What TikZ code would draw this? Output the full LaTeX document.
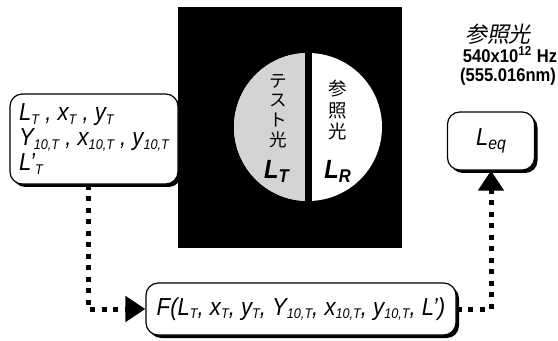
\documentclass[tikz,border=0pt]{standalone}
\usepackage{fontspec}
\setmainfont{Liberation Sans}[FakeStretch=0.9]
\newfontfamily\jpfont{Noto Sans CJK JP}
\newfontfamily\jpslant[FakeSlant=0.2]{Noto Sans CJK JP}
\usetikzlibrary{arrows.meta,positioning,shadows}
\definecolor{halfgray}{RGB}{212,212,212}
\newcommand\lowsub[1]{\raisebox{-2.2pt}{\fontsize{8}{8}\selectfont #1}}
\tikzset{
  valbox/.style={rectangle,rounded corners=7pt,draw=black,line width=0.7pt,fill=white,
    inner sep=2pt,drop shadow={shadow xshift=0.06cm,shadow yshift=-0.06cm,fill=black,opacity=1}},
  valtext/.style={font=\itshape\fontsize{14}{14.2}\selectfont},
  dotline/.style={line width=0.1cm,dash pattern=on 0.1cm off 0.13cm},
  dotarr/.style={dotline,-{Triangle[length=0.4cm,width=0.5cm]}},
  vtext/.style={align=center,inner sep=0pt,font=\jpfont\fontsize{10}{11.3}\selectfont},
  symtext/.style={inner sep=0pt,font=\bfseries\itshape\fontsize{15}{15}\selectfont},
  reftext/.style={inner sep=0pt,font=\bfseries\fontsize{10.5}{12}\selectfont}
}
\begin{document}
\begin{tikzpicture}[x=0.02cm,y=-0.02cm]
  \useasboundingbox (0,0) rectangle (558,341);
  % stimulus field
  \fill[black] (178,7) rectangle (402,248);
  \fill[white] (308,127) circle[radius=74];
  \begin{scope}
    \clip (230,40) rectangle (308,215);
    \fill[halfgray] (308,127) circle[radius=74];
  \end{scope}
  \fill[black] (304.5,45) rectangle (311.5,210);
  \node[vtext] (testlight) at (278,111) {テ\\ス\\ト\\光};
  \node[symtext] (lt) at (277,171) {L\textsubscript{T}};
  \node[vtext,font=\jpfont\fontsize{10.5}{12.5}\selectfont] (reflight) at (338,110) {参\\照\\光};
  \node[symtext] (lr) at (338,171) {L\textsubscript{R}};

  % reference light
  \node[inner sep=0pt,font=\jpslant\fontsize{12.5}{13}\selectfont] (reflabel) at (498,34) {参照光};
  \node[reftext] (freq) at (510,55) {540x10\textsuperscript{12} Hz};
  \node[reftext] (wave) at (508,77) {(555.016nm)};

  % values
  \node[valbox,valtext,align=left,minimum width=168*0.02cm,minimum height=90*0.02cm] (tvals) at (94,139)
    {L\lowsub{T} , x\lowsub{T} , y\lowsub{T}\\
     Y\lowsub{10,T} , x\lowsub{10,T} , y\lowsub{10,T}\\
     L'\lowsub{T}};
  \node[valbox,valtext,minimum width=87*0.02cm,minimum height=58*0.02cm] (leq) at (491,141)
    {L\lowsub{\fontsize{10}{10}\selectfont eq}};
  \node[valbox,valtext,minimum width=310*0.02cm,minimum height=52*0.02cm] (func) at (301,309)
    {F(L\lowsub{T}, x\lowsub{T}, y\lowsub{T}, Y\lowsub{10,T}, x\lowsub{10,T}, y\lowsub{10,T}, L')};

  \draw[dotarr] ([xshift=-0.12cm]tvals.south) |- (func.west);
  \draw[dotarr] (func.east) -| (leq.south);
\end{tikzpicture}
\end{document}
